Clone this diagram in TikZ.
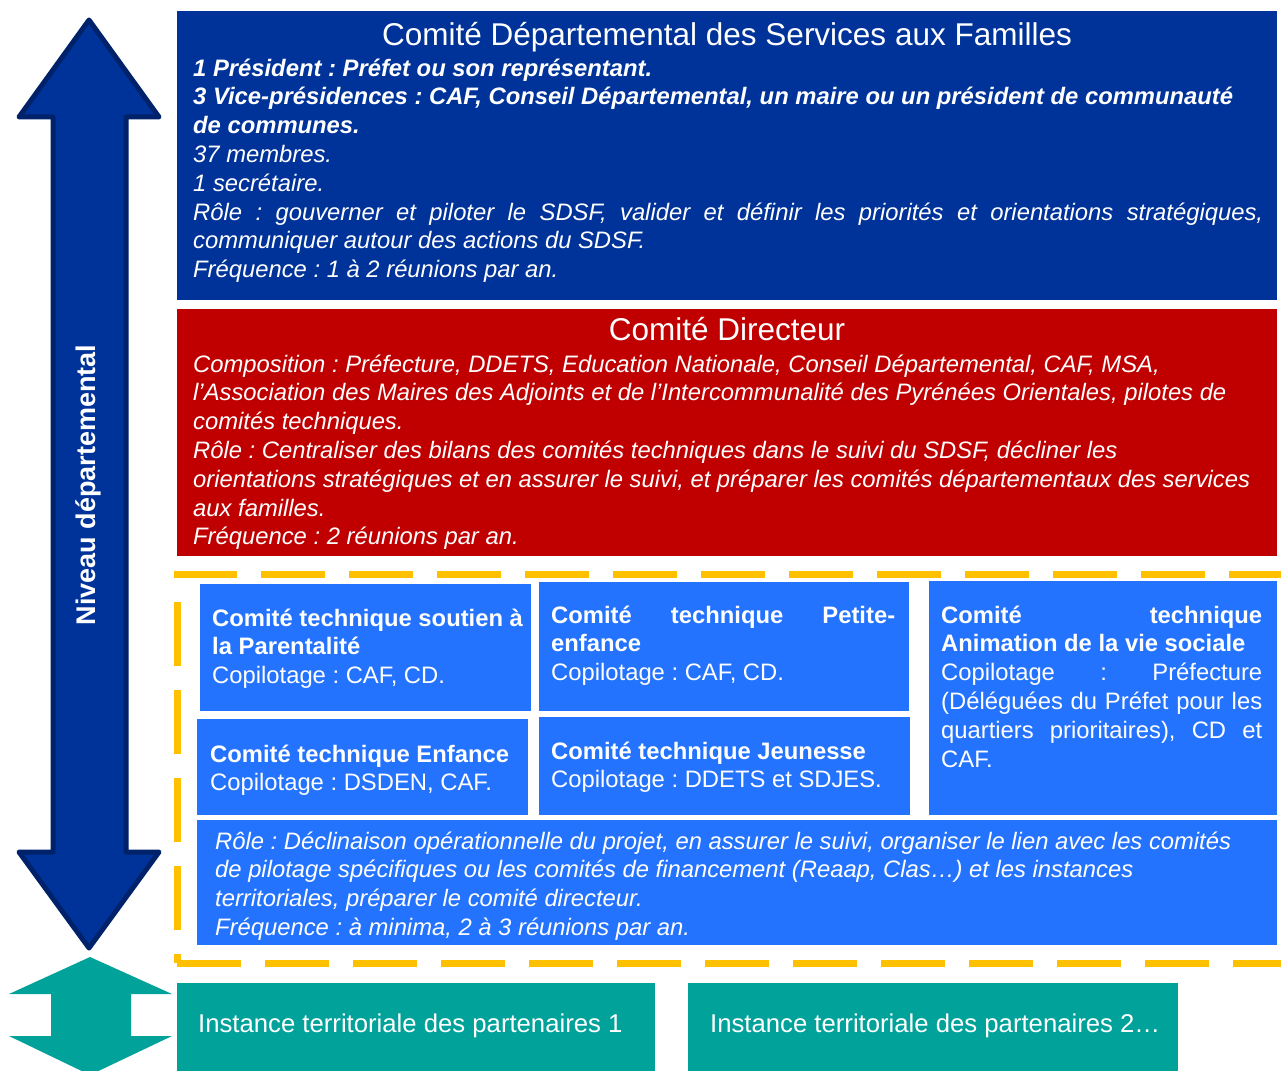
\documentclass[tikz,border=0pt]{standalone}
\usepackage{fontspec}
\setmainfont{Liberation Sans}
\frenchspacing
\definecolor{dblue}{HTML}{003399}
\definecolor{navy}{HTML}{00226A}
\definecolor{dred}{HTML}{C00000}
\definecolor{tblue}{HTML}{2473FF}
\definecolor{yel}{HTML}{FFC000}
\definecolor{teal2}{HTML}{00A29A}
\begin{document}
\begin{tikzpicture}[x=1pt,y=-1pt,
  box/.style={draw=none, inner sep=0pt, outer sep=0pt, anchor=north west},
  txt/.style={text=white, inner sep=0pt, anchor=base west, align=left, font=\fontsize{23.8}{28.8}\selectfont},
  ttl/.style={text=white, inner sep=0pt, anchor=base, font=\fontsize{31.5}{36}\selectfont},
  dy/.style={draw=yel, line width=7pt, dash pattern=on 64pt off 24pt},
]
\useasboundingbox[fill=white] (0,0) rectangle (1281,1070);

% left double arrow
\draw[fill=dblue, draw=navy, line width=5pt, line join=round]
  (89,20) -- (159,117) -- (126,117) -- (126,852) -- (159,852) -- (89,948)
  -- (19,852) -- (53,852) -- (53,117) -- (19,117) -- cycle;
\node[text=white, inner sep=0pt, rotate=90, font=\bfseries\fontsize{27}{32}\selectfont] (niv) at (88,485) {Niveau départemental};

% bottom teal arrow
\fill[teal2] (90,957) -- (172,994) -- (131,994) -- (131,1036) -- (172,1036) -- (90,1075)
  -- (9,1036) -- (51,1036) -- (51,994) -- (9,994) -- cycle;

% top box (text anchored at the baseline of its last line)
\node[box, fill=dblue, minimum width=1100pt, minimum height=289pt] (cdsf) at (177,11) {};
\node[ttl] (cdsft) at (727,46) {Comité Départemental des Services aux Familles};
\node[txt] (cdsfb) at (193,277.6) {%
\textbf{\textit{1 Président : Préfet ou son représentant.}}\\
\textbf{\textit{3 Vice-présidences : CAF, Conseil Départemental, un maire ou un président de communauté}}\\
\textbf{\textit{de communes.}}\\
\textit{37 membres.}\\
\textit{1 secrétaire.}\\
\textit{\makebox[1070pt][s]{Rôle : gouverner et piloter le SDSF, valider et définir les priorités et orientations stratégiques,}}\\
\textit{communiquer autour des actions du SDSF.}\\
\textit{Fréquence : 1 à 2 réunions par an.}};

% red box
\node[box, fill=dred, minimum width=1100pt, minimum height=247pt] (cdir) at (177,309) {};
\node[ttl] (cdirt) at (727,340) {Comité Directeur};
\node[txt, font=\itshape\fontsize{23.8}{28.8}\selectfont] (cdirb) at (193,544.8) {%
Composition : Préfecture, DDETS, Education Nationale, Conseil Départemental, CAF, MSA,\\
l’Association des Maires des Adjoints et de l'Intercommunalité des Pyrénées Orientales, pilotes de\\
comités techniques.\\
Rôle : Centraliser des bilans des comités techniques dans le suivi du SDSF, décliner les\\
orientations stratégiques et en assurer le suivi, et préparer les comités départementaux des services\\
aux familles.\\
Fréquence : 2 réunions par an.};

% dashed frame
\draw[dy, dash phase=55pt] (177,963) -- (177,574) -- (1290,574);
\draw[dy] (177,963) -- (1290,963);

% technical committees
\node[box, fill=tblue, minimum width=331pt, minimum height=127pt] (ct1) at (200,584) {};
\node[txt] (ct1t) at (212,683.6) {\textbf{Comité technique soutien à}\\\textbf{la Parentalité}\\Copilotage : CAF, CD.};

\node[box, fill=tblue, minimum width=370pt, minimum height=129pt] (ct2) at (539,582) {};
\node[txt] (ct2t) at (551,680.6) {\textbf{\makebox[344pt][s]{Comité technique Petite-}}\\\textbf{enfance}\\Copilotage : CAF, CD.};

\node[box, fill=tblue, minimum width=348pt, minimum height=234pt] (ct3) at (929,581) {};
\node[txt] (ct3t) at (941,767) {\textbf{\makebox[321pt][s]{Comité technique}}\\\textbf{Animation de la vie sociale}\\\makebox[321pt][s]{Copilotage : Préfecture}\\\makebox[321pt][s]{(Déléguées du Préfet pour les}\\\makebox[321pt][s]{quartiers prioritaires), CD et}\\CAF.};

\node[box, fill=tblue, minimum width=331pt, minimum height=96pt] (ct4) at (197,719) {};
\node[txt] (ct4t) at (210,790.8) {\textbf{Comité technique Enfance}\\Copilotage : DSDEN, CAF.};

\node[box, fill=tblue, minimum width=371pt, minimum height=98pt] (ct5) at (539,717) {};
\node[txt] (ct5t) at (551,787.8) {\textbf{Comité technique Jeunesse}\\Copilotage : DDETS et SDJES.};

\node[box, fill=tblue, minimum width=1080pt, minimum height=125pt] (ctr) at (197,820) {};
\node[txt, font=\itshape\fontsize{23.8}{28.8}\selectfont] (ctrt) at (215,935.4) {%
Rôle : Déclinaison opérationnelle du projet, en assurer le suivi, organiser le lien avec les comités\\
de pilotage spécifiques ou les comités de financement (Reaap, Clas…) et les instances\\
territoriales, préparer le comité directeur.\\
Fréquence : à minima, 2 à 3 réunions par an.};

% territorial instances
\node[box, fill=teal2, minimum width=478pt, minimum height=92pt] (it1) at (177,983) {};
\node[txt, font=\fontsize{25.7}{30}\selectfont] (it1t) at (198,1032) {Instance territoriale des partenaires 1};
\node[box, fill=teal2, minimum width=490pt, minimum height=92pt] (it2) at (688,983) {};
\node[txt, font=\fontsize{25.7}{30}\selectfont] (it2t) at (710,1032) {Instance territoriale des partenaires 2…};
\end{tikzpicture}
\end{document}
